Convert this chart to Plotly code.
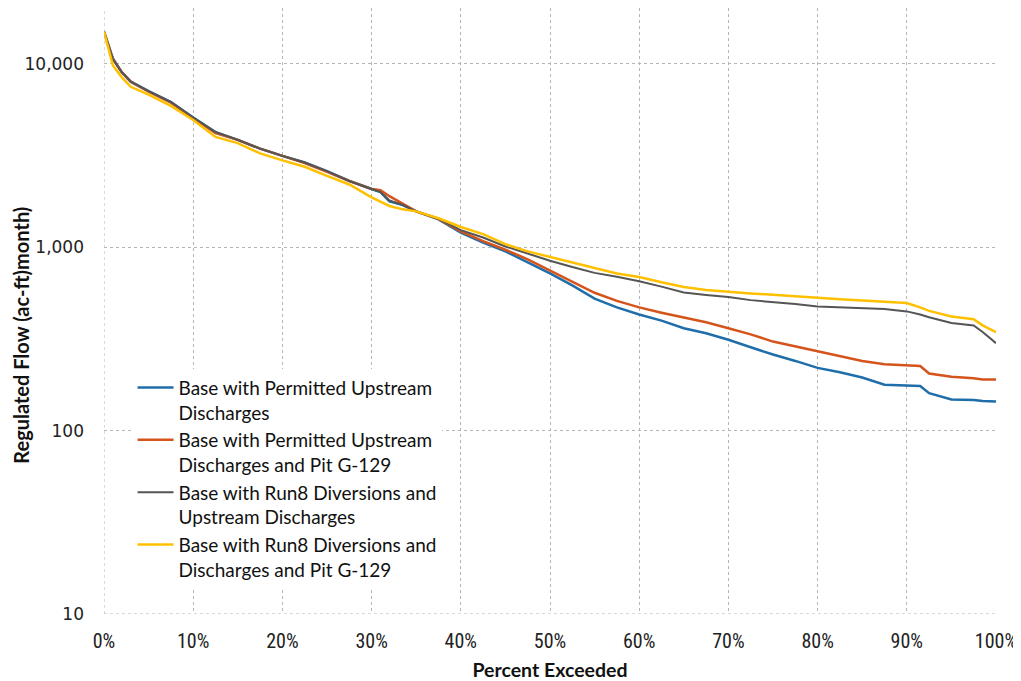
import plotly.graph_objects as go

pct = [0, 0.5, 1, 2, 3, 5, 7.5, 10, 12.5, 15, 17.5, 20, 22.5, 25, 27.5, 30, 31, 32, 33.5, 35,
       37.5, 40, 42.5, 45, 47.5, 50, 52.5, 55, 57.5, 60, 62.5, 65, 67.5, 70, 72.5, 75, 77.5,
       80, 82.5, 85, 87.5, 90, 91.5, 92.5, 95, 97.5, 98.5, 100]

base_permitted = [15000, 12600, 10700, 9000, 8000, 7100, 6200, 5100, 4250, 3850, 3450, 3150, 2900,
                  2600, 2300, 2080, 2000, 1780, 1700, 1570, 1420, 1200, 1060, 950, 830, 720, 620,
                  525, 470, 430, 398, 362, 340, 313, 285, 260, 240, 220, 208, 195, 178, 176, 175,
                  160, 148, 147, 145, 144]

permitted_pit = [15000, 12600, 10600, 9000, 8000, 7050, 6150, 5050, 4200, 3850, 3450, 3150, 2880,
                 2580, 2300, 2080, 2050, 1900, 1720, 1570, 1430, 1220, 1080, 970, 860, 745, 650,
                 565, 510, 470, 440, 415, 390, 362, 335, 306, 288, 270, 255, 240, 230, 228, 225,
                 205, 197, 193, 190, 190]

run8_upstream = [15000, 12600, 10600, 9000, 8000, 7100, 6200, 5100, 4250, 3850, 3450, 3150, 2900,
                 2600, 2300, 2080, 2000, 1800, 1700, 1570, 1430, 1240, 1130, 1010, 920, 845, 780,
                 725, 690, 652, 610, 567, 550, 536, 515, 500, 490, 476, 470, 466, 460, 447, 430,
                 415, 386, 375, 345, 300]

run8_pit = [15000, 12300, 9800, 8450, 7500, 6800, 5900, 4950, 4000, 3700, 3250, 2980, 2750, 2450,
            2200, 1870, 1780, 1680, 1610, 1570, 1440, 1290, 1180, 1040, 950, 885, 820, 771, 720,
            689, 645, 607, 585, 570, 560, 551, 540, 528, 520, 513, 505, 497, 470, 450, 419, 405,
            375, 345]

series = [
    ("Base with Permitted Upstream<br>Discharges", base_permitted, "#1f6eaa", 2.5),
    ("Base with Permitted Upstream<br>Discharges and Pit G-129", permitted_pit, "#d4541c", 2.5),
    ("Base with Run8 Diversions and<br>Upstream Discharges", run8_upstream, "#555555", 2.0),
    ("Base with Run8 Diversions and<br>Discharges and Pit G-129", run8_pit, "#ffc000", 2.5),
]

y_ticks = [10, 100, 1000, 10000]
y_tick_text = ["10", "100", "1,000", "10,000"]
x_ticks = list(range(0, 101, 10))
x_tick_text = [f"{v}%" for v in x_ticks]

fig = go.Figure()
for i, (name, vals, color, w) in enumerate(series):
    fig.add_trace(go.Scatter(x=pct, y=vals, mode="lines", name=name, legendgroup=f"g{i}",
                             line=dict(color=color, width=w)))

# page body has an 8px margin, so the figure is sized/offset to compensate
fig.update_layout(
    width=1013, height=673,
    margin=dict(l=96, r=25, t=0, b=67),
    paper_bgcolor="white", plot_bgcolor="white",
    font=dict(family="Lato, 'Open Sans', sans-serif", color="#111111"),
    legend=dict(x=0.032, y=0.405, xanchor="left", yanchor="top",
                bgcolor="white", font=dict(size=19, family="Lato, sans-serif", color="#111111"),
                valign="top", tracegroupgap=0, itemwidth=36),
    showlegend=True,
    annotations=[dict(text="<b>Regulated Flow (ac-ft)month)</b>", textangle=-90,
                      xref="paper", yref="paper", x=-0.0925, y=0.46, xanchor="center",
                      yanchor="middle", showarrow=False,
                      font=dict(size=20, family="Lato, sans-serif", color="#111111"))],
)
fig.update_xaxes(
    range=[0, 100], tickvals=x_ticks, ticktext=x_tick_text, automargin=False,
    showgrid=True, gridcolor="#b5b5b5", griddash="dot", gridwidth=1,
    zeroline=False, showline=False, ticks="", ticklabelstandoff=13,
    tickfont=dict(size=20, family="'Liberation Sans Narrow', 'Roboto Condensed', Lato, sans-serif", color="#222222"),
    title=dict(text="<b>Percent Exceeded</b>", font=dict(size=19.5, family="Lato, sans-serif"), standoff=12),
)
fig.update_yaxes(
    type="log", range=[1, 4.305], tickvals=y_ticks, ticktext=y_tick_text, automargin=False,
    showgrid=True, gridcolor="#b5b5b5", griddash="dot", gridwidth=1,
    zeroline=False, showline=False, ticks="", ticklabelstandoff=19,
    tickfont=dict(size=17, family="'DejaVu Sans', sans-serif", color="#222222"),
)
fig.add_vline(x=0, line=dict(color="#b5b5b5", dash="dot", width=1))
fig.add_hline(y=10, line=dict(color="#b5b5b5", dash="dot", width=1))

fig.write_html("out.html")
